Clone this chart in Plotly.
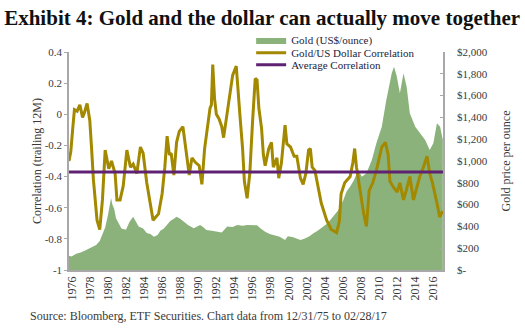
import plotly.graph_objects as go

# ---- data ----
corr_years = [1975.7, 1975.9, 1976.1, 1976.3, 1976.6, 1976.9, 1977.2, 1977.4, 1977.7, 1978.0,
              1978.2, 1978.4, 1978.8, 1979.1, 1979.4, 1979.7, 1980.1, 1980.4, 1980.8, 1981.0,
              1981.35, 1981.7, 1982.1, 1982.5, 1982.8, 1983.2, 1983.6, 1983.9, 1984.3, 1984.7,
              1985.0, 1985.3, 1985.6, 1986.0, 1986.3, 1986.55, 1986.8, 1987.0, 1987.3, 1987.6,
              1987.9, 1988.3, 1988.6, 1989.0, 1989.3, 1989.7, 1990.1, 1990.4, 1990.7, 1991.0,
              1991.3, 1991.45, 1991.6, 1991.8, 1992.0, 1992.3, 1992.6, 1992.8, 1993.1, 1993.5,
              1993.8, 1994.2, 1994.4, 1994.6, 1994.9, 1995.1, 1995.4, 1995.7, 1996.0, 1996.3,
              1996.5, 1996.7, 1997.0, 1997.2, 1997.4, 1997.8, 1998.1, 1998.3, 1998.7, 1998.9,
              1999.2, 1999.6, 1999.8, 2000.2, 2000.6, 2000.9, 2001.3, 2001.6, 2001.9, 2002.2,
              2002.4, 2002.6, 2002.9, 2003.3, 2003.6, 2004.2, 2004.7, 2005.3, 2005.6, 2005.8,
              2006.2, 2006.8, 2007.1, 2007.3, 2007.5, 2007.9, 2008.3, 2008.6, 2008.9, 2009.3,
              2009.7, 2010.3, 2010.7, 2011.0, 2011.2, 2011.6, 2012.0, 2012.3, 2012.7, 2013.0,
              2013.4, 2013.8, 2014.2, 2014.5, 2014.9, 2015.3, 2015.6, 2015.9, 2016.4, 2016.7,
              2017.05]
corr_values = [-0.30, -0.24, -0.10, 0.03, 0.02, 0.06, -0.02, 0.01, 0.07, -0.04,
               -0.22, -0.42, -0.68, -0.74, -0.55, -0.23, -0.35, -0.30, -0.38, -0.55,
               -0.55, -0.46, -0.23, -0.34, -0.32, -0.38, -0.21, -0.25, -0.44, -0.59,
               -0.68, -0.66, -0.64, -0.51, -0.34, -0.14, -0.26, -0.25, -0.39, -0.18,
               -0.11, -0.08, -0.20, -0.39, -0.28, -0.31, -0.33, -0.45, -0.22, -0.09,
               0.04, 0.06, 0.32, 0.10, 0.00, -0.03, -0.08, -0.15, -0.02, 0.13,
               0.25, 0.31, 0.12, 0.00, -0.22, -0.43, -0.54, -0.38, -0.05, 0.23,
               0.22, 0.04, -0.09, -0.26, -0.33, -0.22, -0.18, -0.34, -0.28, -0.41,
               -0.31, -0.07, -0.19, -0.21, -0.27, -0.27, -0.41, -0.45, -0.38, -0.23,
               -0.22, -0.34, -0.36, -0.49, -0.57, -0.68, -0.74, -0.76, -0.69, -0.51,
               -0.44, -0.40, -0.31, -0.22, -0.34, -0.49, -0.64, -0.72, -0.49, -0.44,
               -0.36, -0.21, -0.18, -0.26, -0.43, -0.47, -0.50, -0.44, -0.55, -0.49,
               -0.40, -0.55, -0.46, -0.40, -0.34, -0.27, -0.38, -0.44, -0.57, -0.66,
               -0.62]

gold_years = [1975.7, 1976.0, 1976.5, 1977.0, 1977.6, 1978.2, 1978.7, 1979.1, 1979.4, 1979.7,
              1980.0, 1980.2, 1980.35, 1980.5, 1980.7, 1980.9, 1981.2, 1981.5, 1982.0, 1982.4,
              1982.8, 1983.1, 1983.4, 1983.9, 1984.3, 1984.7, 1985.1, 1985.5, 1985.8, 1986.2,
              1986.5, 1986.9, 1987.3, 1987.6, 1988.0, 1988.4, 1988.9, 1989.5, 1990.0, 1990.2,
              1990.6, 1990.9, 1991.5, 1992.0, 1992.6, 1993.2, 1993.8, 1994.3, 1994.9, 1995.4,
              1996.0, 1996.5, 1996.9, 1997.4, 1997.9, 1998.5, 1999.0, 1999.6, 1999.9, 2000.5,
              2001.0, 2001.3, 2001.8, 2002.3, 2002.7, 2003.2, 2003.8, 2004.3, 2004.9, 2005.5,
              2006.05, 2006.4, 2006.8, 2007.2, 2007.7, 2008.1, 2008.6, 2009.2, 2009.7, 2010.3,
              2010.8, 2011.1, 2011.4, 2011.65, 2011.95, 2012.3, 2012.7, 2013.05, 2013.4, 2014.0,
              2014.5, 2015.1, 2015.6, 2016.0, 2016.4, 2016.75, 2017.05]
gold_values = [130, 125, 150, 160, 183, 205, 229, 265, 321, 390,
               500, 600, 660, 600, 560, 474, 430, 380, 370, 443,
               489, 450, 400, 380, 340, 330, 306, 320, 360, 380,
               413, 450, 470, 489, 470, 443, 410, 382, 400, 413,
               390, 367, 360, 352, 345, 398, 395, 413, 405, 413,
               415, 410, 380, 350, 330, 320, 306, 275, 310, 300,
               285, 275, 290, 310, 336, 360, 397, 430, 489, 550,
               642, 720, 765, 820, 917, 856, 887, 1009, 1162, 1315,
               1560, 1700, 1804, 1865, 1780, 1621, 1804, 1682, 1437, 1315,
               1254, 1193, 1101, 1162, 1346, 1315, 1193]

avg_corr = -0.37
x_start, x_end = 1975.70, 2017.07

year_ticks = list(range(1976, 2017, 2))
corr_ticks = [0.4, 0.2, 0, -0.2, -0.4, -0.6, -0.8, -1]
corr_ticktext = ["0.4", "0.2", "0", "-0.2", "-0.4", "-0.6", "-0.8", "-1"]
gold_ticks = [0, 200, 400, 600, 800, 1000, 1200, 1400, 1600, 1800, 2000]
gold_ticktext = ["$-", "$200", "$400", "$600", "$800", "$1,000", "$1,200",
                 "$1,400", "$1,600", "$1,800", "$2,000"]

FONT = "Liberation Serif"
GREEN = "#8BB27B"
GOLD = "#A38900"
PURPLE = "#5F2273"
TXT = "#3a3a3a"

fig = go.Figure()
fig.add_trace(go.Scatter(x=gold_years, y=gold_values, name="Gold (US$/ounce)",
                         mode="lines", line=dict(width=0, color=GREEN),
                         fill="tozeroy", fillcolor=GREEN, yaxis="y", legend="legend",
                         showlegend=True))
fig.add_trace(go.Scatter(x=corr_years, y=corr_values, name="Gold/US Dollar Correlation",
                         mode="lines", line=dict(width=3, color=GOLD), yaxis="y2",
                         legend="legend2", showlegend=True))
fig.add_trace(go.Scatter(x=[x_start, x_end], y=[avg_corr, avg_corr], name="Average Correlation",
                         mode="lines", line=dict(width=3, color=PURPLE), yaxis="y2",
                         legend="legend3", showlegend=True))

leg_common = dict(xanchor="left", yanchor="middle", bgcolor="rgba(0,0,0,0)",
                  font=dict(family=FONT, size=11, color="#1c1c3c"), itemwidth=30)
fig.update_layout(
    width=525, height=328,
    margin=dict(l=69, r=82, t=52, b=58),
    paper_bgcolor="white", plot_bgcolor="white",
    showlegend=True,
    font=dict(family=FONT, size=11, color=TXT),
    title=dict(text="<b>Exhibit 4: Gold and the dollar can actually move together</b>",
               x=0.008, xanchor="left", y=0.945, yanchor="middle",
               font=dict(family=FONT, size=21, color="#111111")),
    legend=dict(x=0.487, y=1.055, **leg_common),
    legend2=dict(x=0.487, y=0.997, **leg_common),
    legend3=dict(x=0.487, y=0.942, **leg_common),
    xaxis=dict(range=[x_start, x_end], tickvals=year_ticks, tickangle=-90,
               showgrid=False, zeroline=False, showline=True, linecolor="#a8a8a8",
               linewidth=1.5, ticks="", tickfont=dict(family=FONT, size=12, color=TXT)),
    yaxis=dict(range=[0, 2000], side="right", tickvals=gold_ticks, ticktext=gold_ticktext,
               showgrid=False, zeroline=False, showline=True, linecolor="#a8a8a8",
               linewidth=1.5, ticks="inside", ticklen=3, tickcolor="#a8a8a8",
               ticklabelstandoff=10,
               tickfont=dict(family=FONT, size=11, color=TXT),
               title=dict(text="Gold price per ounce", font=dict(family=FONT, size=12, color=TXT))),
    yaxis2=dict(range=[-1, 0.4], side="left", overlaying="y", tickvals=corr_ticks,
                ticktext=corr_ticktext, showgrid=False, zeroline=False, showline=True,
                linecolor="#a8a8a8", linewidth=1.5, ticks="outside", ticklen=3,
                tickcolor="#a8a8a8", tickfont=dict(family=FONT, size=11, color=TXT),
                title=dict(text="Correlation (trailing 12M)", standoff=0,
                           font=dict(family=FONT, size=12, color=TXT))),
    annotations=[dict(text="Source: Bloomberg, ETF Securities. Chart data from 12/31/75 to 02/28/17",
                      xref="paper", yref="paper", x=-0.11, y=-0.21, xanchor="left",
                      yanchor="middle", showarrow=False,
                      font=dict(family=FONT, size=12, color=TXT))],
)

fig.write_html("out.html")
